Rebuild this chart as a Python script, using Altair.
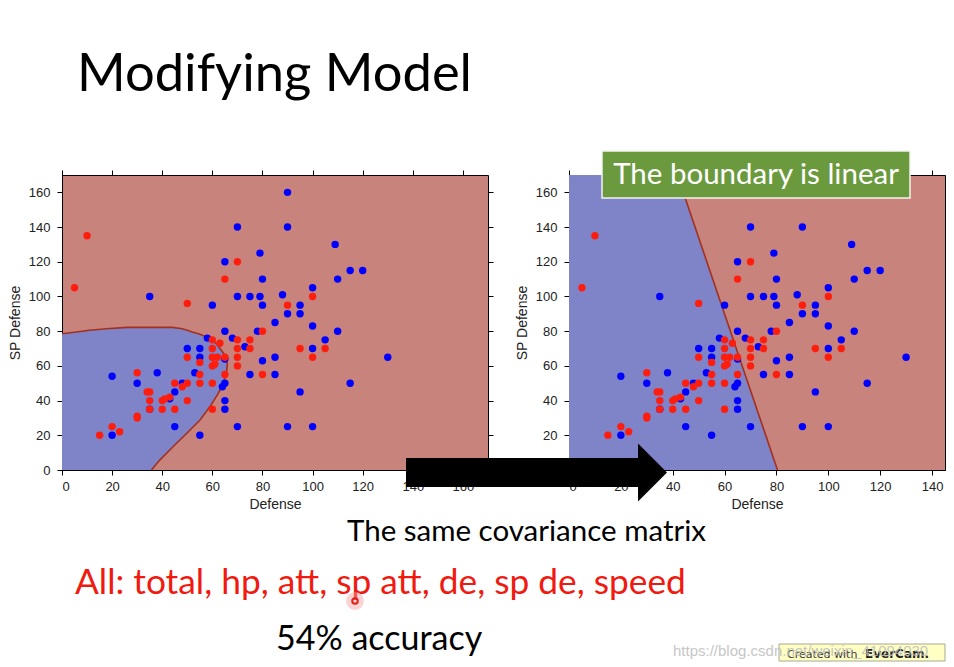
import altair as alt
import pandas as pd

# ---------------- data ----------------
blue_def = [90, 70, 90, 109, 79, 65, 80, 110, 115, 120, 100, 35, 70, 75, 79, 88, 60, 80, 95, 90,
            95, 85, 100, 65, 78, 110, 105, 68, 58, 73, 50, 55, 55, 100, 85, 130, 80, 53, 38, 20,
            75, 85, 30, 48, 65, 64, 45, 115, 95, 65, 43, 65, 35, 45, 70, 90, 100, 20, 55, 65]
blue_spdef = [160, 140, 140, 130, 125, 120, 110, 110, 115, 115, 105, 100, 100, 100, 100, 101, 95, 95, 95, 90,
              90, 85, 83, 80, 80, 80, 75, 76, 76, 71, 70, 70, 65, 70, 65, 65, 63, 56, 56, 54,
              55, 55, 50, 50, 50, 48, 45, 50, 45, 40, 41, 35, 35, 25, 25, 25, 25, 20, 20, 64]
red_def = [10, 5, 70, 65, 50, 90, 100, 80, 60, 63, 70, 75, 70, 75, 60, 95, 105, 100, 50, 60,
           62, 70, 65, 55, 60, 61, 70, 65, 55, 80, 30, 45, 50, 55, 60, 48, 35, 34, 35, 40,
           41, 43, 50, 35, 40, 45, 60, 30, 30, 20, 23, 15]
red_spdef = [135, 105, 120, 110, 96, 95, 100, 80, 75, 73, 75, 75, 70, 70, 70, 70, 70, 65, 65, 65,
             65, 65, 65, 62, 60, 61, 60, 55, 55, 55, 56, 50, 50, 50, 50, 48, 45, 45, 40, 40,
             41, 42, 40, 35, 35, 35, 35, 30, 31, 25, 22, 20]

# left panel (quadratic boundary): blue region, per SP Defense level
lb_y = [0, 5.7, 13.4, 21, 28.7, 36.4, 44, 49.8, 55.6, 61.3, 67, 72.8, 76.6, 78.5, 79.5, 80.5, 81.4, 82.2]
lb_xl = [0, 0, 0, 0, 0, 0, 0, 0, 0, 0, 0, 0, 0, 0, 5.7, 11, 17.7, 26]
lb_xr = [35.7, 39, 44.3, 49.7, 55, 59, 62.3, 64.3, 65.6, 66, 64.6, 61.6, 57.7, 54.5, 52, 50, 48, 44]

# right panel (linear boundary)
rb_y = [0, 170]
rb_xl = [0, 0]
rb_xr = [80.4, 41.8]

tick_vals = [0, 20, 40, 60, 80, 100, 120, 140, 160]

RED_BG = "#C8837C"
BLUE_BG = "#7F83C8"
PT_BLUE = "#0000FF"
PT_RED = "#FF1E0E"
LINE_C = "#A3301E"
FONT_AX = "Liberation Sans"
FONT_SLIDE = "Lato"

pts = pd.DataFrame({
    "Defense": blue_def + red_def,
    "SP Defense": blue_spdef + red_spdef,
    "cls": ["b"] * len(blue_def) + ["r"] * len(red_def),
})

left_area = pd.DataFrame({"y": lb_y, "xl": lb_xl, "xr": lb_xr})
path_x, path_y = [], []
for i in range(13, len(lb_y)):
    path_x.append(lb_xl[i]); path_y.append(lb_y[i])
for i in range(len(lb_y) - 1, -1, -1):
    path_x.append(lb_xr[i]); path_y.append(lb_y[i])
left_line = pd.DataFrame({"x": path_x, "y": path_y, "o": list(range(len(path_x)))})

right_area = pd.DataFrame({"y": rb_y, "xl": rb_xl, "xr": rb_xr})
right_line = pd.DataFrame({"x": rb_xr, "y": rb_y, "o": [0, 1]})

one = pd.DataFrame({"k": [0]})


def panel(xmax, width, area_df, line_df, right_ticks, extras):
    xs = alt.Scale(domain=[0, xmax], nice=False, zero=False)
    ys = alt.Scale(domain=[0, 170], nice=False, zero=False)
    area = alt.Chart(area_df).mark_area(orient="horizontal", color=BLUE_BG, opacity=1, clip=True).encode(
        y=alt.Y("y:Q", scale=ys, axis=None),
        x=alt.X("xl:Q", scale=xs, axis=None),
        x2="xr:Q",
    )
    line = alt.Chart(line_df).mark_line(color=LINE_C, strokeWidth=1.6, clip=True).encode(
        x=alt.X("x:Q", scale=xs, axis=None),
        y=alt.Y("y:Q", scale=ys, axis=None),
        order="o:Q",
    )
    dots = alt.Chart(pts).mark_circle(size=55, opacity=1, clip=True).encode(
        x=alt.X("Defense:Q", scale=xs,
                axis=alt.Axis(values=tick_vals, title="Defense", orient="bottom")),
        y=alt.Y("SP Defense:Q", scale=ys,
                axis=alt.Axis(values=tick_vals, title="SP Defense", orient="left")),
        color=alt.Color("cls:N", scale=alt.Scale(domain=["b", "r"], range=[PT_BLUE, PT_RED]), legend=None),
    )
    yax2 = alt.Axis(values=tick_vals, orient="right", labels=False, title=None, domain=False) if right_ticks else None
    ticks = alt.Chart(pts).mark_point(opacity=0).encode(
        x=alt.X("Defense:Q", scale=xs,
                axis=alt.Axis(values=tick_vals, orient="top", labels=False, title=None, domain=False)),
        y=alt.Y("SP Defense:Q", scale=ys, axis=yax2),
    )
    layers = [area, line, dots, ticks] + extras
    return alt.layer(*layers).resolve_axis(x="independent", y="independent").properties(
        width=width, height=295)


def txt(s, x, y, size, color="black", font=FONT_SLIDE, weight="normal", align="left", opacity=1.0):
    return alt.Chart(one).mark_text(
        text=s, font=font, fontSize=size, color=color, fontWeight=weight,
        align=align, baseline="alphabetic", opacity=opacity,
    ).encode(x=alt.value(x), y=alt.value(y))


# annotations of the slide, placed relative to the panels
spacer = alt.Chart(one).mark_rect(opacity=0).encode(
    x=alt.value(-54), x2=alt.value(-53), y=alt.value(-166), y2=alt.value(-165))
cursor_halo = alt.Chart(one).mark_circle(color="#F4A0A0", opacity=0.45, size=320).encode(
    x=alt.value(293), y=alt.value(426))
cursor_ring = alt.Chart(one).mark_point(color="#E0201A", opacity=1, size=30, strokeWidth=2).encode(
    x=alt.value(293), y=alt.value(426))

left_extras = [
    spacer,
    txt("Modifying Model", 15, -84, 52.5),
    txt("The same covariance matrix", 285, 366, 29.5),
    txt("All: total, hp, att, sp att, de, sp de, speed", 13, 419, 35.3, color="#F01A10"),
    cursor_halo, cursor_ring,
    txt("54% accuracy", 214, 475, 34),
]

arrow = alt.Chart(one).mark_point(
    shape="M-1,-0.111L0.778,-0.111L0.778,-0.222L1,0L0.778,0.222L0.778,0.111L-1,0.111Z",
    filled=True, color="black", opacity=1, size=68121, strokeWidth=0,
).encode(x=alt.value(-32.5), y=alt.value(297.5))
green_box = alt.Chart(one).mark_rect(color="#6B9A3E", stroke="#F4F4F0", strokeWidth=1.5).encode(
    x=alt.value(33), x2=alt.value(341), y=alt.value(-24), y2=alt.value(23))
ever_box = alt.Chart(one).mark_rect(color="#FFFFC4", stroke="#A8A890", strokeWidth=1).encode(
    x=alt.value(210), x2=alt.value(376), y=alt.value(469), y2=alt.value(486))

right_extras = [
    arrow,
    green_box,
    txt("The boundary is linear", 187, 9, 29.5, color="white", align="center"),
    ever_box,
    txt("Created with ", 218, 483, 11, color="#333333", font="DejaVu Sans"),
    txt("EverCam.", 296, 483, 12, color="#222222", font="DejaVu Sans", weight="bold"),
    txt("https://blog.csdn.net/weixin_41094030", 104, 481, 15, color="#BDBDBD", font="Liberation Sans", opacity=0.85),
]

left = panel(170, 426, left_area, left_line, True, left_extras)
right = panel(145, 376, right_area, right_line, False, right_extras)

chart = alt.hconcat(left, right, spacing=81, bounds="flush").properties(
    padding={"left": -1, "top": 0, "right": 0, "bottom": 0},
    background="white",
).configure_view(
    fill=RED_BG, stroke="black", strokeWidth=1,
).configure_axis(
    grid=False, labelFont=FONT_AX, labelFontSize=13, labelColor="#222222",
    titleFont=FONT_AX, titleFontSize=14, titleFontWeight="normal", titleColor="#222222",
    tickColor="black", domainColor="black", tickSize=5, labelPadding=5,
    titlePadding=4,
).configure_axisLeft(labelPadding=7, titlePadding=6)

chart.save("out.html", embed_options={"renderer": "svg", "actions": False})
